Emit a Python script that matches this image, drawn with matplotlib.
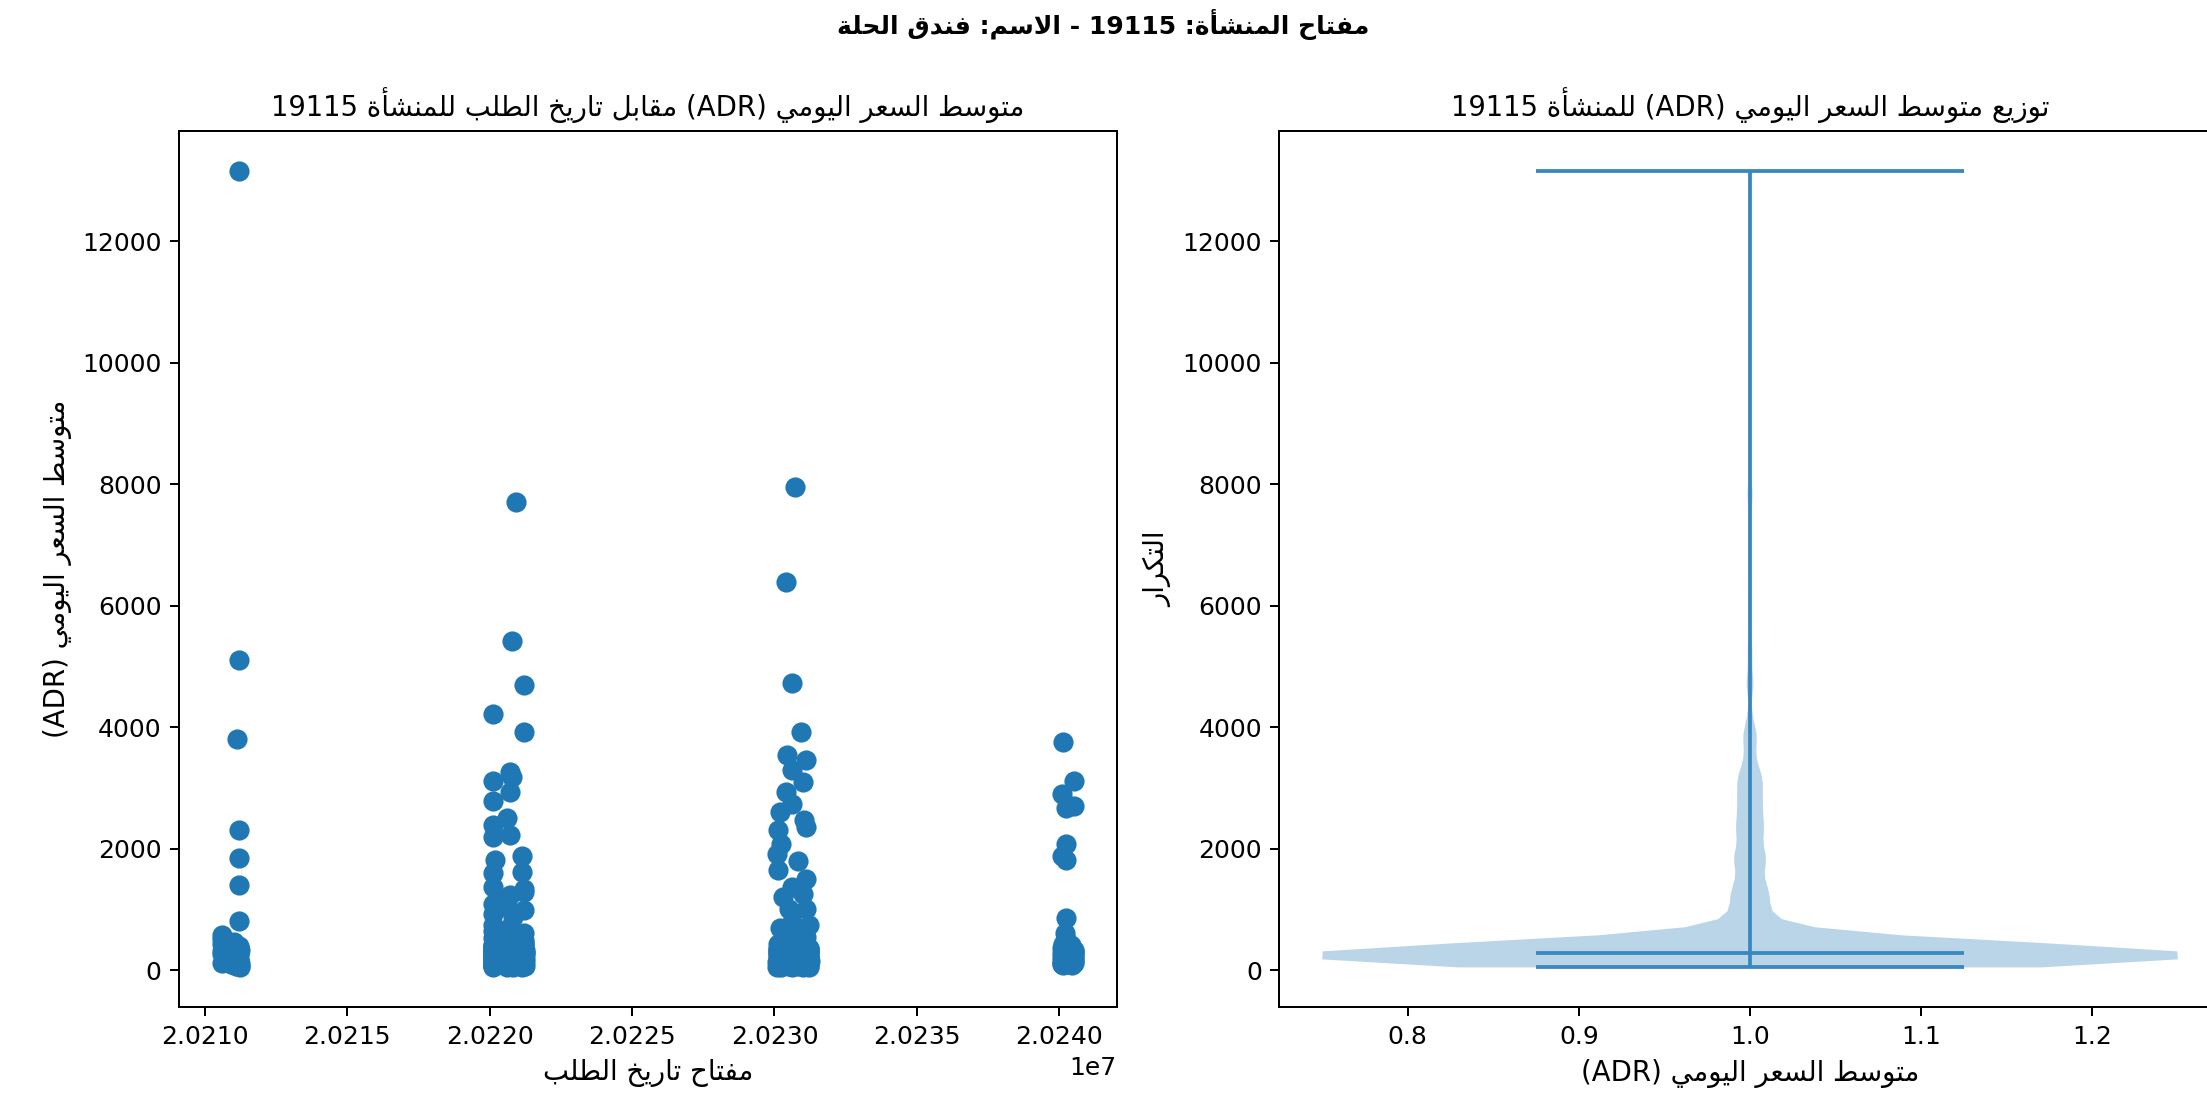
import re
import matplotlib
matplotlib.use('Agg')
import matplotlib.pyplot as plt
import numpy as np

plt.rcParams['font.family'] = ['DejaVu Sans']

# ---- data (booking date key, ADR) ----
dates_2021 = [20211220, 20211220, 20211118, 20211220, 20211220, 20211220, 20211220,
              20210601, 20210612, 20210618, 20210625, 20210702, 20210709, 20210716, 20210723,
              20210615, 20210628, 20210705, 20210720, 20210812, 20210819, 20210826, 20210905,
              20210915, 20210925,
              20211003, 20211010, 20211017, 20211024, 20211031, 20211107, 20211114, 20211121,
              20211128, 20211205, 20211212, 20211219, 20211226, 20211230, 20211105, 20211015,
              20211102, 20211210, 20211022, 20211208, 20211130, 20211229,
              20210608, 20210622, 20210711, 20210730, 20210808, 20210830, 20210910, 20210920,
              20211006, 20211020, 20211110, 20211125, 20211203, 20211215, 20211222]
adr_2021 = [13157, 5112, 3801, 2308, 1845, 1405, 810,
            585, 520, 430, 360, 310, 250, 205, 160,
            120, 280, 390, 470, 340, 230, 175, 290,
            140, 95,
            380, 300, 240, 190, 130, 85, 60, 260,
            320, 210, 150, 110, 70, 55, 350, 270,
            170, 280, 100, 400, 230, 125,
            265, 310, 345, 290, 420, 225, 375, 330,
            250, 455, 300, 215, 365, 280, 325]

dates_2022 = [20220920, 20220801, 20221225, 20220125, 20221225, 20220710, 20220801, 20220125,
              20220715, 20220125, 20220620, 20220125, 20220701, 20220125, 20220201, 20221130,
              20220125, 20221130, 20220125, 20221225, 20220620, 20220125, 20221225, 20220710,
              20220125, 20221215, 20220615,
              20220103, 20220105, 20220107, 20220109, 20220111, 20220113, 20220114, 20220116,
              20220118, 20220119, 20220120, 20220121, 20220122, 20220123, 20220124, 20220125,
              20220126, 20220127, 20220128, 20220129, 20220130, 20220131, 20220112, 20220117,
              20220108,
              20220502, 20220509, 20220516, 20220523, 20220530, 20220606, 20220610, 20220613,
              20220617, 20220620, 20220624, 20220627, 20220701, 20220704, 20220708, 20220711,
              20220715, 20220718, 20220722, 20220725, 20220729, 20220801, 20220805, 20220808,
              20220812, 20220815, 20220819, 20220822, 20220826, 20220603, 20220630, 20220714,
              20220728, 20220811, 20220520,
              20221103, 20221107, 20221110, 20221114, 20221117, 20221121, 20221124, 20221128,
              20221201, 20221203, 20221205, 20221207, 20221209, 20221211, 20221213, 20221215,
              20221217, 20221219, 20221221, 20221223, 20221225, 20221227, 20221229, 20221230,
              20221231, 20221206, 20221212, 20221218, 20221222, 20221228,
              20220104, 20220110, 20220115, 20220120, 20220128, 20220505, 20220525, 20220608,
              20220618, 20220703, 20220712, 20220721, 20220730, 20220810, 20220820, 20221105,
              20221112, 20221119, 20221126, 20221202, 20221208, 20221214, 20221220, 20221226,
              20221230]
adr_2022 = [7701, 5418, 4686, 4223, 3922, 3255, 3180, 3121,
            2939, 2782, 2506, 2389, 2231, 2191, 1813, 1876,
            1602, 1617, 1360, 1327, 1169, 931, 997, 1240,
            1090, 1294, 1045,
            48, 133, 287, 412, 176, 95, 241, 358,
            121, 640, 205, 73, 318, 156, 262, 530,
            88, 189, 224, 747, 112, 299, 61, 381,
            167,
            92, 214, 345, 148, 276, 57, 463, 189,
            231, 118, 305, 82, 252, 702, 171, 139,
            388, 66, 227, 109, 560, 198, 285, 153,
            44, 334, 126, 248, 871, 181, 99, 420,
            264, 143, 217,
            76, 159, 293, 203, 127, 372, 54, 238,
            181, 446, 104, 269, 141, 315, 85, 222,
            610, 172, 255, 117, 396, 69, 193, 281,
            135, 503, 99, 247, 164, 328,
            305, 262, 348, 410, 287, 233, 376, 452,
            318, 270, 395, 245, 338, 298, 480, 356,
            276, 425, 312, 258, 367, 290, 440, 330,
            282]

dates_2023 = [20230706, 20230404, 20230627, 20230930, 20230428, 20231122, 20230608, 20231017,
              20230420, 20230610, 20230205, 20231025, 20231120, 20230131, 20230228, 20230105,
              20230829, 20230131, 20231118, 20230629, 20230301, 20231001, 20230515, 20231120,
              20230103, 20230106, 20230110, 20230113, 20230117, 20230120, 20230124, 20230127,
              20230131, 20230203, 20230207, 20230210, 20230214, 20230217, 20230221, 20230224,
              20230228, 20230303, 20230307, 20230310, 20230314, 20230317, 20230321, 20230324,
              20230328,
              20230402, 20230406, 20230411, 20230415, 20230419, 20230423, 20230427, 20230501,
              20230505, 20230509, 20230513, 20230518, 20230522, 20230526, 20230530, 20230603,
              20230607, 20230612, 20230616, 20230620, 20230624, 20230628, 20230702, 20230706,
              20230711, 20230715, 20230719, 20230723, 20230727, 20230801, 20230805, 20230810,
              20230815, 20230820, 20230825,
              20230904, 20230910, 20230916, 20230922, 20230928, 20231003, 20231008, 20231013,
              20231018, 20231023, 20231028, 20231102, 20231106, 20231110, 20231114, 20231118,
              20231122, 20231126, 20231130, 20231203, 20231206, 20231209, 20231212, 20231215,
              20231218, 20231221, 20231224, 20231227, 20231229, 20231231,
              20230108, 20230125, 20230212, 20230305, 20230325, 20230410, 20230425, 20230512,
              20230528, 20230614, 20230630, 20230717, 20230803, 20230818, 20230906, 20230925,
              20231011, 20231026, 20231108, 20231124, 20231205, 20231213, 20231220, 20231226,
              20231230]
adr_2023 = [7960, 6387, 4726, 3922, 3545, 3451, 3294, 3096,
            2939, 2742, 2600, 2468, 2349, 2309, 2073, 1916,
            1798, 1641, 1499, 1365, 1208, 1246, 1013, 1000,
            137, 59, 284, 196, 431, 103, 252, 78,
            349, 165, 220, 690, 121, 307, 47, 186,
            266, 94, 518, 149, 233, 372, 112, 289,
            174,
            208, 81, 325, 146, 259, 592, 117, 193,
            64, 401, 237, 158, 272, 98, 355, 129,
            213, 788, 178, 49, 296, 141, 245, 467,
            87, 322, 199, 154, 263, 108, 384, 226,
            72, 641, 183,
            264, 115, 338, 91, 207, 152, 429, 57,
            278, 184, 127, 541, 236, 83, 312, 169,
            95, 257, 360, 138, 201, 66, 295, 114,
            740, 229, 176, 52, 348, 145,
            296, 341, 258, 407, 323, 275, 389, 442,
            305, 266, 358, 318, 472, 287, 334, 249,
            399, 312, 273, 426, 345, 292, 368, 255,
            316]

dates_2024 = [20240130, 20240501, 20240105, 20240505, 20240218, 20240218, 20240105, 20240225,
              20240218,
              20240102, 20240104, 20240108, 20240111, 20240115, 20240118, 20240122, 20240125,
              20240129, 20240201, 20240205, 20240208, 20240212, 20240215, 20240219, 20240222,
              20240226, 20240229, 20240304, 20240311, 20240318, 20240325, 20240401, 20240408,
              20240415, 20240422, 20240429, 20240503, 20240506, 20240510, 20240513, 20240516,
              20240520, 20240109, 20240216,
              20240103, 20240112, 20240120, 20240127, 20240203, 20240210, 20240221, 20240227,
              20240307, 20240321, 20240404, 20240418, 20240426, 20240508, 20240515]
adr_2024 = [3750, 3121, 2899, 2703, 2666, 2073, 1876, 1813,
            853,
            214, 98, 356, 152, 271, 127, 433, 186,
            89, 305, 241, 117, 392, 168, 230, 142,
            520, 95, 287, 199, 134, 362, 108, 254,
            176, 415, 91, 223, 157, 338, 119, 265,
            187, 101, 610,
            285, 332, 258, 397, 306, 274, 351, 420,
            295, 318, 262, 377, 340, 289, 310]

property_key = 19115
property_name = 'فندق الحلة'

# ---- minimal Arabic shaping + RTL ordering for matplotlib ----
DUAL = {0x0626: 0xFE89, 0x0628: 0xFE8F, 0x062A: 0xFE95, 0x062B: 0xFE99, 0x062C: 0xFE9D,
        0x062D: 0xFEA1, 0x062E: 0xFEA5, 0x0633: 0xFEB1, 0x0634: 0xFEB5, 0x0635: 0xFEB9,
        0x0636: 0xFEBD, 0x0637: 0xFEC1, 0x0638: 0xFEC5, 0x0639: 0xFEC9, 0x063A: 0xFECD,
        0x0641: 0xFED1, 0x0642: 0xFED5, 0x0643: 0xFED9, 0x0644: 0xFEDD, 0x0645: 0xFEE1,
        0x0646: 0xFEE5, 0x0647: 0xFEE9, 0x064A: 0xFEF1}
RIGHT = {0x0622: 0xFE81, 0x0623: 0xFE83, 0x0624: 0xFE85, 0x0625: 0xFE87, 0x0627: 0xFE8D,
         0x0629: 0xFE93, 0x062F: 0xFEA9, 0x0630: 0xFEAB, 0x0631: 0xFEAD, 0x0632: 0xFEAF,
         0x0648: 0xFEED, 0x0649: 0xFEEF}
LAM_ALEF = {0x0622: 0xFEF5, 0x0623: 0xFEF7, 0x0625: 0xFEF9, 0x0627: 0xFEFB}
MIRROR = str.maketrans('()', ')(')


def is_ar(c):
    return ord(c) in DUAL or ord(c) in RIGHT


def shape(text):
    out = []
    prev = False
    i = 0
    n = len(text)
    while i < n:
        o = ord(text[i])
        if o == 0x0644 and i + 1 < n and ord(text[i + 1]) in LAM_ALEF:
            out.append(chr(LAM_ALEF[ord(text[i + 1])] + (1 if prev else 0)))
            prev = False
            i += 2
            continue
        if o in DUAL:
            nxt = i + 1 < n and is_ar(text[i + 1])
            f = 3 if (prev and nxt) else 1 if prev else 2 if nxt else 0
            out.append(chr(DUAL[o] + f))
            prev = True
        elif o in RIGHT:
            out.append(chr(RIGHT[o] + (1 if prev else 0)))
            prev = False
        else:
            out.append(text[i])
            prev = False
        i += 1
    return ''.join(out)


def ar(text):
    s = shape(text)
    runs = re.findall(r'[A-Za-z0-9.]+|[^A-Za-z0-9.]+', s)
    out = []
    for r in reversed(runs):
        if re.match(r'[A-Za-z0-9.]', r):
            out.append(r)
        else:
            out.append(r[::-1].translate(MIRROR))
    return ''.join(out)


dates = dates_2021 + dates_2022 + dates_2023 + dates_2024
adr = adr_2021 + adr_2022 + adr_2023 + adr_2024

fig = plt.figure(figsize=(2207 / 180, 1100 / 180), dpi=180)
ax1 = fig.add_axes([0.0812, 0.0843, 0.4248, 0.7966])
ax2 = fig.add_axes([0.5797, 0.0843, 0.4265, 0.7966])

ax1.scatter(dates, adr, s=50)
ax1.set_title(ar('متوسط السعر اليومي (ADR) مقابل تاريخ الطلب للمنشأة %d' % property_key),
              fontsize=11)
ax1.set_xlabel(ar('مفتاح تاريخ الطلب'), fontsize=11)
ax1.set_ylabel(ar('متوسط السعر اليومي (ADR)'), fontsize=11)

parts = ax2.violinplot(adr, showmedians=True, bw_method=lambda k: 175.0 / k.dataset.std())
for key in ['cbars', 'cmins', 'cmaxes', 'cmedians']:
    parts[key].set_color('#3987bf')
ax2.set_title(ar('توزيع متوسط السعر اليومي (ADR) للمنشأة %d' % property_key), fontsize=11)
ax2.set_xlabel(ar('متوسط السعر اليومي (ADR)'), fontsize=11)
ax2.set_ylabel(ar('التكرار'), fontsize=11)

fig.suptitle(ar('مفتاح المنشأة: %d - الاسم: %s' % (property_key, property_name)),
             fontweight='bold', fontsize=10, y=0.992)

fig.savefig('out.png', dpi=180)
